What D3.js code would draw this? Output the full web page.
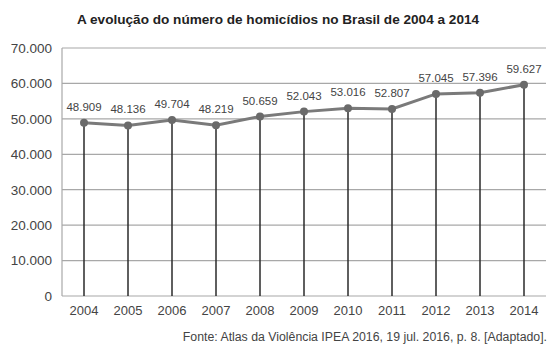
<!DOCTYPE html>
<html>
<head lang="pt">
  <title>Homicidios Brasil 2004-2014</title>
  <script src="https://d3js.org/d3.v7.min.js" charset="utf-8"></script>
  <style>
    body { margin: 0; background: #fff; }
    text { font-family: "Liberation Sans", Arial, sans-serif; }
  </style>
</head>
<body>
  <script>

    // data
    var years = ["2004", "2005", "2006", "2007", "2008", "2009", "2010", "2011", "2012", "2013", "2014"];
    var homicides = [48909, 48136, 49704, 48219, 50659, 52043, 53016, 52807, 57045, 57396, 59627];
    var yTicks = [0, 10000, 20000, 30000, 40000, 50000, 60000, 70000];

    var title = "A evolução do número de homicídios no Brasil de 2004 a 2014";
    var source = "Fonte: Atlas da Violência IPEA 2016, 19 jul. 2016, p. 8. [Adaptado].";

    var width = 548;
    var height = 347;
    var margin = {top: 48, right: 2, bottom: 51, left: 62};

    var br = d3.formatLocale({decimal: ",", thousands: ".", grouping: [3], currency: ["R$", ""]});
    var fmt = br.format(",d");

    var svg = d3.select("body")
      .append("svg")
      .attr("width", width)
      .attr("height", height);

    var x = d3.scalePoint()
      .domain(years)
      .range([margin.left, width - margin.right])
      .padding(0.5);

    var y = d3.scaleLinear()
      .domain([0, 70000])
      .range([height - margin.bottom, margin.top]);

    var data = years.map(function(d, i) { return {year: d, value: homicides[i]}; });

    // horizontal grid
    svg.append("g")
      .selectAll("line")
      .data(yTicks)
      .enter().append("line")
        .attr("x1", margin.left)
        .attr("x2", width - margin.right)
        .attr("y1", function(d) { return y(d); })
        .attr("y2", function(d) { return y(d); })
        .attr("stroke", "#a8a8a8")
        .attr("stroke-width", 1.2);

    // left axis line
    svg.append("line")
      .attr("x1", margin.left)
      .attr("x2", margin.left)
      .attr("y1", y(70000))
      .attr("y2", y(0))
      .attr("stroke", "#a8a8a8")
      .attr("stroke-width", 1.2);

    // y labels
    svg.append("g")
      .selectAll("text")
      .data(yTicks)
      .enter().append("text")
        .attr("x", 52)
        .attr("y", function(d) { return y(d); })
        .attr("dy", "0.36em")
        .attr("text-anchor", "end")
        .attr("font-size", "13.5px")
        .attr("fill", "#444")
        .text(function(d) { return fmt(d); });

    // x labels
    svg.append("g")
      .selectAll("text")
      .data(years)
      .enter().append("text")
        .attr("x", function(d) { return x(d); })
        .attr("y", 315)
        .attr("text-anchor", "middle")
        .attr("font-size", "13px")
        .attr("fill", "#444")
        .text(function(d) { return d; });

    // drop lines
    svg.append("g")
      .selectAll("line")
      .data(data)
      .enter().append("line")
        .attr("x1", function(d) { return x(d.year); })
        .attr("x2", function(d) { return x(d.year); })
        .attr("y1", function(d) { return y(d.value); })
        .attr("y2", y(0))
        .attr("stroke", "#2a2a2a")
        .attr("stroke-width", 1.5);

    // line
    var line = d3.line()
      .x(function(d) { return x(d.year); })
      .y(function(d) { return y(d.value); });

    svg.append("path")
      .datum(data)
      .attr("d", line)
      .attr("fill", "none")
      .attr("stroke", "#7a7a7a")
      .attr("stroke-width", 3);

    svg.append("g")
      .selectAll("circle")
      .data(data)
      .enter().append("circle")
        .attr("cx", function(d) { return x(d.year); })
        .attr("cy", function(d) { return y(d.value); })
        .attr("r", 4)
        .attr("fill", "#6a6a6a");

    // value labels
    svg.append("g")
      .selectAll("text")
      .data(data)
      .enter().append("text")
        .attr("x", function(d) { return x(d.year); })
        .attr("y", function(d) { return y(d.value) - 12; })
        .attr("text-anchor", "middle")
        .attr("font-size", "11.5px")
        .attr("fill", "#444")
        .text(function(d) { return fmt(d.value); });

    // title
    svg.append("text")
      .attr("x", 278)
      .attr("y", 24)
      .attr("text-anchor", "middle")
      .attr("font-size", "13.6px")
      .attr("font-weight", "bold")
      .attr("fill", "#222")
      .text(title);

    // source
    svg.append("text")
      .attr("x", 547)
      .attr("y", 341)
      .attr("text-anchor", "end")
      .attr("font-size", "12.3px")
      .attr("fill", "#444")
      .text(source);

  </script>
</body>
</html>
